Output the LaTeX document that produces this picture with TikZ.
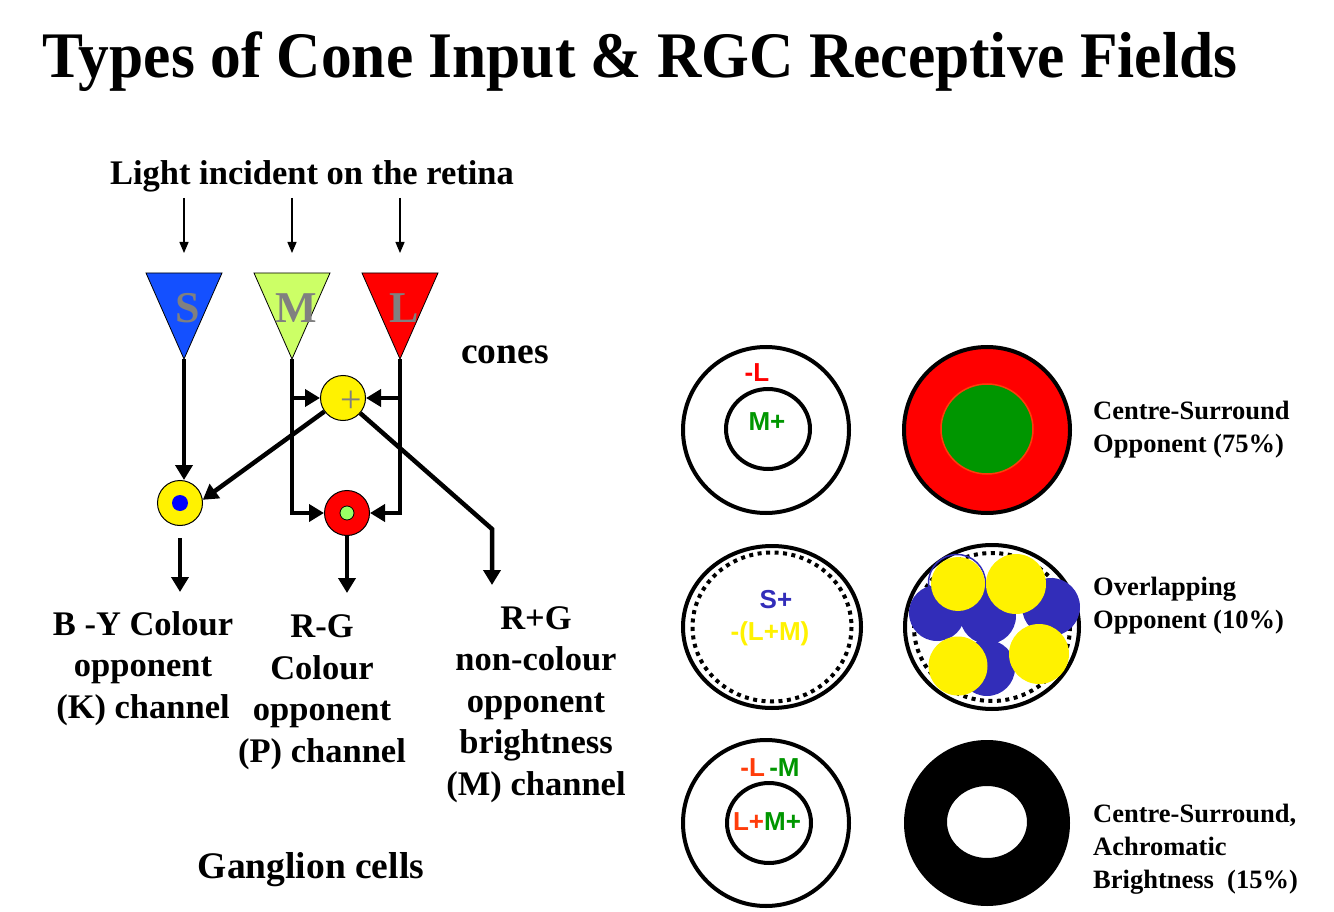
\documentclass[tikz,border=0pt]{standalone}
\usepackage{fontspec}
\usepackage{xcolor}
\usepackage{tikz}
\usetikzlibrary{positioning,arrows.meta}
\setmainfont{Liberation Serif}
\newfontfamily\titlefont[FakeStretch=0.945]{Liberation Serif}
\newfontfamily\cellfont{Liberation Sans}
\definecolor{sblue}{RGB}{20,80,255}
\definecolor{mgreen}{RGB}{204,255,102}
\definecolor{lred}{RGB}{255,0,0}
\definecolor{dotgreen}{RGB}{153,255,102}
\definecolor{labgreen}{RGB}{0,150,0}
\definecolor{laborange}{RGB}{255,60,10}
\definecolor{blobblue}{RGB}{50,45,185}
\definecolor{conegray}{RGB}{128,128,128}

\tikzset{
    txt/.style={font=\fontsize{34.5}{41.5}\selectfont\bfseries, inner sep=0pt, align=center},
    bigtxt/.style={font=\fontsize{37.5}{41.5}\selectfont\bfseries, inner sep=0pt},
    desc/.style={font=\fontsize{26.5}{33}\selectfont\bfseries, inner sep=0pt, align=left, anchor=base west},
    lab/.style={font=\cellfont\bfseries\fontsize{26}{30}\selectfont, inner sep=0pt},
    coneletter/.style={font=\fontsize{44}{44}\selectfont\bfseries, text=conegray, inner sep=0pt},
    cell/.style={circle, draw, line width=1pt, minimum size=45pt, inner sep=0pt},
    sig/.style={line width=4.5pt, -{Triangle[length=15pt,width=17pt]}},
    light/.style={line width=1.3pt, -{Triangle[length=11pt,width=9pt]}},
    ring/.style={line width=4pt},
    dotring/.style={line width=4pt, dash pattern=on 4pt off 4.5pt}
}

\begin{document}
\begin{tikzpicture}[x=1pt,y=-1pt]
    \useasboundingbox (0,0) rectangle (1334,912);

    \node[
        inner sep=0pt,
        anchor=base,
        font=\titlefont\fontsize{65}{70}\selectfont\bfseries
    ] (title) at (640,78) {Types of Cone Input \& RGC Receptive Fields};

    \node[txt, anchor=base] (light) at (312,185) {Light incident on the retina};

    % cones
    \foreach \n/\x/\col in {S/184/sblue,M/292/mgreen,L/400/lred}{
        \filldraw[fill=\col, draw=black, line width=0.8pt] (\x-38,273) -- (\x+38,273) -- (\x,359) -- cycle;
        \coordinate (top\n) at (\x,273);
        \coordinate (tip\n) at (\x,359);
        \coordinate (in\n) at (\x,198);
        \node[coneletter] (\n) at (\x+4,308) {\n};
        \draw[light] (in\n) -- ([yshift=20pt]top\n);
    }
    \node[bigtxt, anchor=base] (cones) at (505,363) {cones};

    % ganglion cells
    \node[cell, fill=yellow] (plus) at (343,398) {};
    \node[text=conegray, font=\fontsize{38}{38}\selectfont, inner sep=0pt] (plussign) at (351,402) {+};
    \node[cell, fill=yellow] (bycell) at (180,503) {};
    \node[circle, fill=blue, minimum size=16pt, inner sep=0pt] (bydot) at (bycell) {};
    \node[cell, fill=lred] (rgcell) at (347,513) {};
    \node[circle, draw, fill=dotgreen, line width=0.8pt, minimum size=14pt, inner sep=0pt] (rgdot) at (rgcell) {};

    \coordinate (bend) at (492,529);
    \coordinate (mout) at (492,585);
    \coordinate (byout) at (180,592);
    \coordinate (rgout) at (347,593);

    \draw[sig] (tipS) -- (tipS |- bycell.north);
    \draw[sig] (tipM) -- (tipM |- rgcell) -- (rgcell);
    \draw[sig] (tipL) -- (tipL |- rgcell) -- (rgcell);
    \draw[sig] (tipM |- plus) -- (plus);
    \draw[sig] (tipL |- plus) -- (plus);
    \draw[sig] (plus) -- (bycell.8);
    \draw[sig] (plus) -- (bend) -- (mout);
    \draw[sig] ([yshift=-12pt]bycell.south) -- (byout);
    \draw[sig] (rgcell) -- (rgout);

    % base = last line
    \node[txt, anchor=base] (bylab) at (143,718) {B -Y Colour\\opponent\\(K) channel};
    \node[txt, anchor=base] (rglab) at (322,762) {R-G\\Colour\\opponent\\(P) channel};
    \node[txt, anchor=base] (mlab) at (536,795) {R+G\\non-colour\\opponent\\brightness\\(M) channel};
    \node[bigtxt, anchor=base] (gang) at (311,878) {Ganglion cells};

    % receptive fields, row 1
    \draw[ring] (766,430) circle[radius=83];
    \draw[ring] (768,429) ellipse[x radius=42,y radius=40];
    \node[lab, text=lred] (surrA) at (757,373) {-L};
    \node[lab, text=labgreen] (centA) at (767,422) {M+};
    \filldraw[fill=lred, draw=black, line width=4pt] (987,430) circle[radius=83];
    \filldraw[fill=labgreen, draw=laborange, line width=1.5pt] (987,429) ellipse[x radius=46,y radius=45];
    \node[desc] (descA) at (1093,452) {Centre-Surround\\Opponent (75\%)};

    % row 2
    \draw[ring] (772,627) ellipse[x radius=89,y radius=81];
    \draw[dotring] (772,627) ellipse[x radius=79.5,y radius=74.5];
    \node[lab, text=blobblue] (surrB) at (776,600) {S+};
    \node[lab, text=yellow] (centB) at (770,634) {-(L+M)};
    \draw[ring] (992,627) ellipse[x radius=87,y radius=82];
    \draw[dotring] (992,627) ellipse[x radius=78,y radius=74];
    \foreach \bx/\by/\br in {937/613/28,988/616/28,1051/607/29,987/668/28}
        \fill[blobblue] (\bx,\by) circle[radius=\br];
    \draw[blobblue, line width=1.5pt] (957,583) circle[radius=28.5];
    \foreach \bx/\by/\br in {958/584/27,1016/584/30,958/666/29.5,1039/654/30}
        \fill[yellow] (\bx,\by) circle[radius=\br];
    \node[desc] (descB) at (1093,628) {Overlapping\\Opponent (10\%)};

    % row 3
    \draw[ring] (766,823) circle[radius=83];
    \draw[ring] (769,823) ellipse[x radius=42,y radius=40];
    \node[lab] (surrC) at (770,768) {\textcolor{laborange}{-L}\,\textcolor{labgreen}{-M}};
    \node[lab] (centC) at (767,822) {\textcolor{laborange}{L+}\textcolor{labgreen}{M+}};
    \fill[black, even odd rule] (987,823) circle[radius=83] (987,822) ellipse[x radius=40,y radius=36];
    \node[desc] (descC) at (1093,888) {Centre-Surround,\\Achromatic\\Brightness~~(15\%)};
\end{tikzpicture}
\end{document}
